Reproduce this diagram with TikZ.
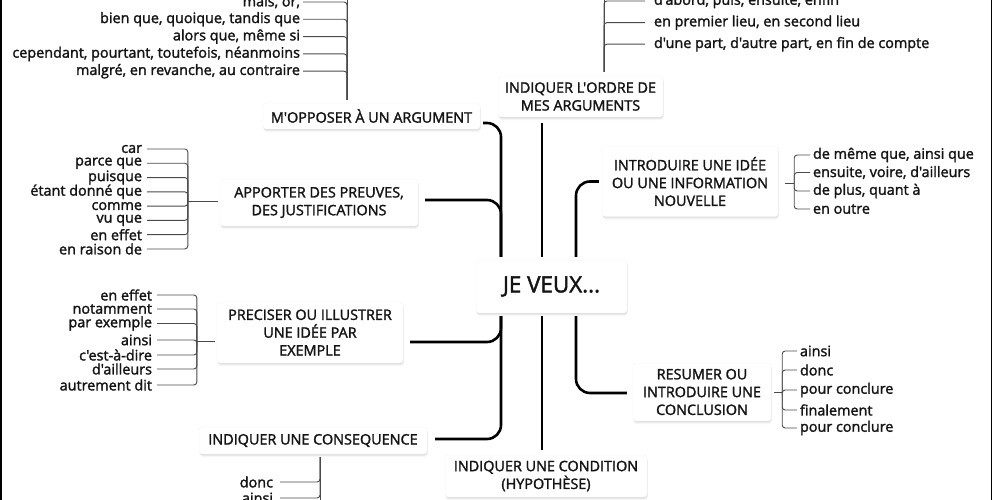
\documentclass[tikz,border=0pt]{standalone}
\usepackage{fontspec}
\setmainfont{Open Sans}[Ligatures=TeXOff, UprightFeatures={FakeBold=1.8}]
\usetikzlibrary{shadows}
\definecolor{thinc}{HTML}{4A4A4A}
\definecolor{txt}{HTML}{141414}
\tikzset{
  box/.style={fill=white, draw=black!4, rounded corners=3pt, align=center, inner sep=0pt,
    text=txt, font=\fontsize{14.4}{17.8}\selectfont,
    drop shadow={shadow xshift=0.8pt, shadow yshift=-3pt, opacity=0.07},
    drop shadow={shadow xshift=0.5pt, shadow yshift=-1.8pt, opacity=0.10},
    drop shadow={shadow xshift=0.2pt, shadow yshift=-0.8pt, opacity=0.12}},
  main/.style={line width=2.6pt, black, rounded corners=14pt},
  thinline/.style={line width=0.9pt, thinc, rounded corners=3pt},
  itemL/.style={anchor=east, inner sep=0pt, outer sep=#1, text=txt, font=\fontsize{14.4}{14}\selectfont},
  itemL/.default=3pt,
  itemR/.style={anchor=west, inner sep=0pt, outer sep=#1, text=txt, font=\fontsize{14.4}{14}\selectfont},
  itemR/.default=3pt,
}
\begin{document}
\begin{tikzpicture}[x=1pt,y=-1pt]
\useasboundingbox (0,0) rectangle (992,500);
\fill[white] (0,0) rectangle (992,500);
\fill[black] (0,0) rectangle (1.5,500);
\fill[black] (990.5,0) rectangle (992,500);

% main nodes
\node[box, minimum width=217pt, minimum height=26pt] (opp) at (371.5,116) {M'OPPOSER À UN ARGUMENT};
\node[box, minimum width=165pt, minimum height=41pt] (ordre) at (580.5,96.5) {INDIQUER L'ORDRE DE\\MES ARGUMENTS};
\node[box, minimum width=176pt, minimum height=70pt] (intro) at (690,181.5) {INTRODUIRE UNE IDÉE\\OU UNE INFORMATION\\NOUVELLE};
\node[box, minimum width=198pt, minimum height=47pt] (apport) at (319,202.5) {APPORTER DES PREUVES,\\DES JUSTIFICATIONS};
\node[box, minimum width=151pt, minimum height=53pt, font=\fontsize{22.4}{24}\selectfont] (jv) at (551.5,286.5) {JE VEUX...};
\node[box, minimum width=186pt, minimum height=61pt] (prec) at (310,332.5) {PRECISER OU ILLUSTRER\\UNE IDÉE PAR\\EXEMPLE};
\node[box, minimum width=138pt, minimum height=58pt] (resum) at (702,392) {RESUMER OU\\INTRODUIRE UNE\\CONCLUSION};
\node[box, minimum width=228pt, minimum height=27pt] (conseq) at (313,440.5) {INDIQUER UNE CONSEQUENCE};
\node[box, minimum width=202pt, minimum height=42pt] (cond) at (546,476) {INDIQUER UNE CONDITION\\(HYPOTHÈSE)};

% trunk anchors on the central node
\coordinate (jvNL) at ([xshift=-50.5pt]jv.north);
\coordinate (jvNM) at ([xshift=-9.5pt]jv.north);
\coordinate (jvNR) at ([xshift=24.5pt]jv.north);
\coordinate (jvSL) at ([xshift=-50.5pt]jv.south);
\coordinate (jvSM) at ([xshift=-9.5pt]jv.south);
\coordinate (jvSR) at ([xshift=24.5pt]jv.south);

% main connectors
\draw[main, shorten >=3pt] ([shift={(3,7)}]opp.east) -| (jvNL);
\draw[main, shorten >=3pt] ([shift={(7,-2.5)}]apport.east) -| (jvNL);
\draw[main, shorten <=6pt, shorten >=3pt] (ordre.south -| jvNM) -- (jvNM);
\draw[main, shorten <=3pt, shorten >=3pt] (jvNR) |- (intro.west);
\draw[main, shorten <=3pt] (jvSL) |- ([shift={(7,9.5)}]prec.east);
\draw[main, shorten <=3pt] (jvSL) |- ([shift={(8,-1.5)}]conseq.east);
\draw[main, shorten <=3pt, shorten >=5pt] (jvSM) -- (cond.north -| jvSM);
\draw[main, shorten <=3pt] (jvSR) |- ([shift={(-6,1)}]resum.west);

% list 1: opposer
\coordinate (b1) at ([shift={(-24.5,-3)}]opp.north);
\draw[thinline] (b1) -- ++(0,-115);
\foreach \t [count=\i] in {{mais, or,},{bien que, quoique, tandis que},{alors que, même si},{cependant, pourtant, toutefois, néanmoins},{malgré, en revanche, au contraire}}{
  \node[itemL=3pt] (o\i) at (303,{2+17.3*(\i-1)}) {\t};
  \draw[thinline] (o\i.east) -| (b1);
}

% list 2: ordre
\coordinate (b2) at ([shift={(23.5,-4)}]ordre.north);
\draw[thinline] (b2) -- ++(0,-80);
\foreach \t [count=\i] in {{d'abord, puis, ensuite, enfin},{en premier lieu, en second lieu},{d'une part, d'autre part, en fin de compte}}{
  \node[itemR=9pt] (r\i) at (645,{1+21.6*(\i-1)}) {\t};
  \draw[thinline] (b2) |- (r\i.west);
}

% list 3: apporter
\coordinate (b3) at ([shift={(-32,-1.5)}]apport.west);
\draw[thinline, shorten <=2pt] (apport.west |- b3) -- (b3);
\foreach \t [count=\i] in {car,parce que,puisque,étant donné que,comme,vu que,en effet,en raison de}{
  \node[itemL=5pt] (a\i) at (147,{149+14.28*(\i-1)}) {\t};
  \draw[thinline] (a\i.east) -| (b3);
}

% list 4: preciser
\coordinate (b4) at ([shift={(-20,9)}]prec.west);
\draw[thinline, shorten <=2pt] (prec.west |- b4) -- (b4);
\foreach \t/\y [count=\i] in {en effet/295,notamment/309,par exemple/323.5,ainsi/340,c'est-à-dire/355,d'ailleurs/369,autrement dit/385}{
  \node[itemL=5pt] (p\i) at (157,\y) {\t};
  \draw[thinline] (p\i.east) -| (b4);
}

% list 5: consequence
\coordinate (b5) at ([shift={(7,3)}]conseq.south);
\draw[thinline] (b5) -- ++(0,60);
\foreach \t/\y [count=\i] in {donc/482,ainsi/498}{
  \node[itemL=7pt] (c\i) at (280,\y) {\t};
  \draw[thinline] (c\i.east) -| (b5);
}

% list 6: introduire
\coordinate (b6) at ([shift={(16,1.5)}]intro.east);
\draw[thinline, shorten <=7pt] (intro.east |- b6) -- (b6);
\foreach \t/\y [count=\i] in {{de même que, ainsi que}/155,{ensuite, voire, d'ailleurs}/172.5,{de plus, quant à}/191,{en outre}/209}{
  \node[itemR=3pt] (n\i) at (810,\y) {\t};
  \draw[thinline] (b6) |- (n\i.west);
}

% list 7: resumer
\coordinate (b7) at ([xshift=11pt]resum.east);
\draw[thinline, shorten <=3pt] (resum.east) -- (b7);
\foreach \t/\y [count=\i] in {ainsi/351,donc/370,pour conclure/390,finalement/410,pour conclure/428}{
  \node[itemR=3pt] (s\i) at (797,\y) {\t};
  \draw[thinline] (b7) |- (s\i.west);
}
\end{tikzpicture}
\end{document}
